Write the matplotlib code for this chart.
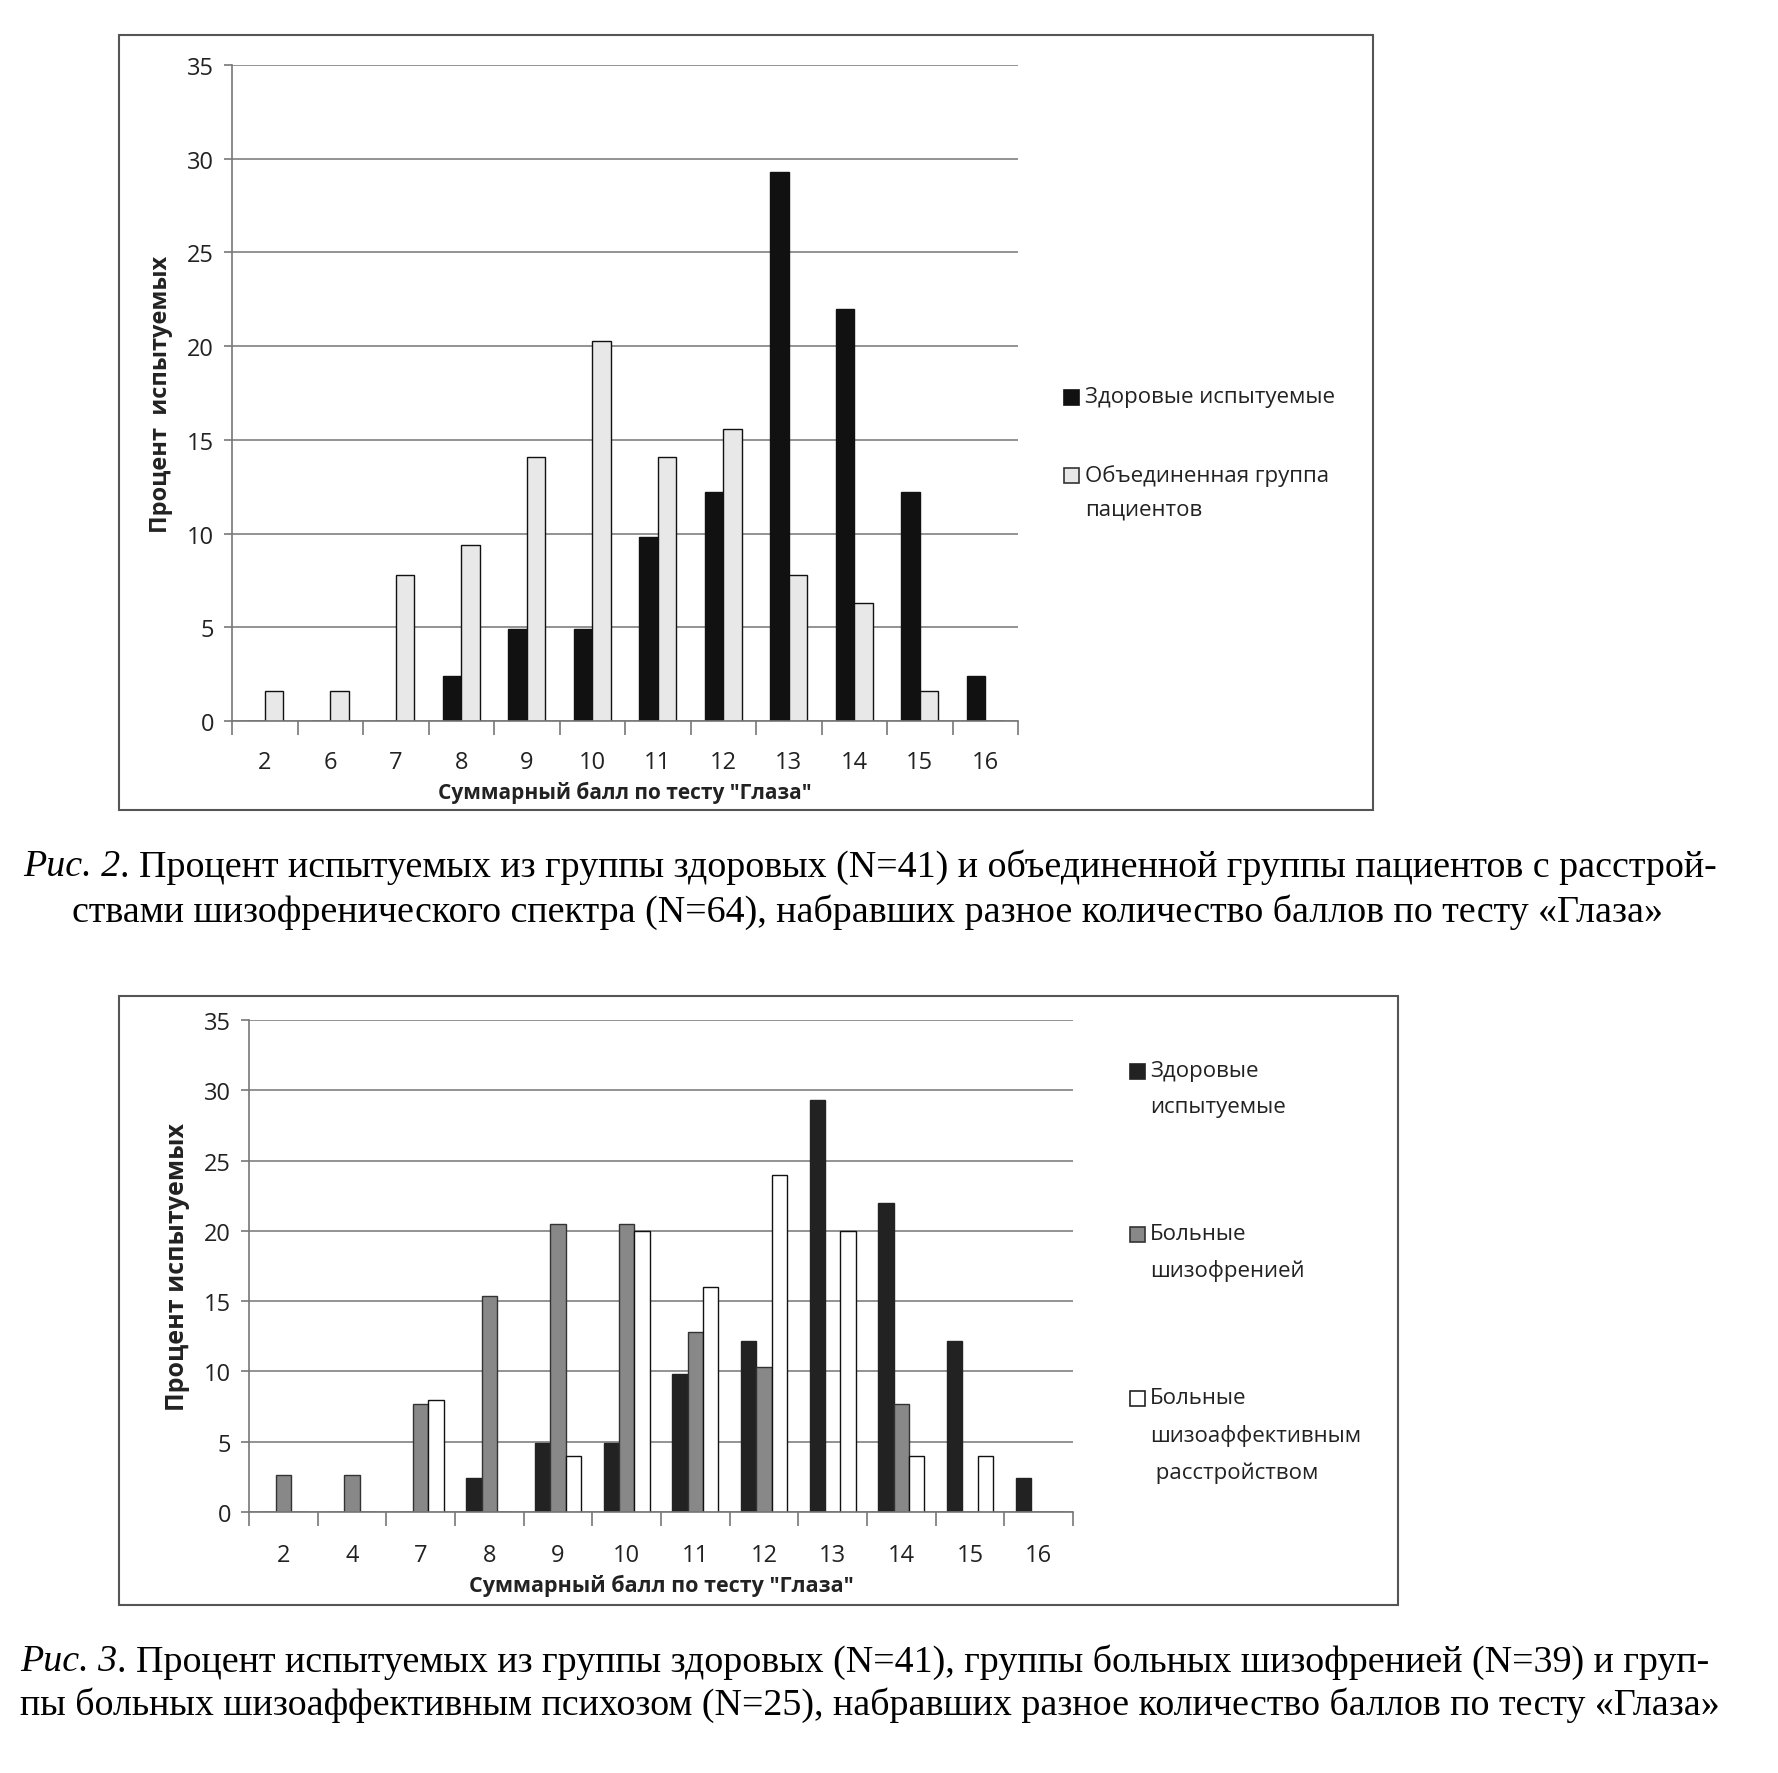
import matplotlib
matplotlib.use('Agg')
import matplotlib.pyplot as plt
import numpy as np
from matplotlib.patches import Rectangle

# data (percent of subjects per total score)
scores_top = ['2', '6', '7', '8', '9', '10', '11', '12', '13', '14', '15', '16']
healthy_top = [0, 0, 0, 2.4, 4.9, 4.9, 9.8, 12.2, 29.3, 22.0, 12.2, 2.4]
patients_top = [1.6, 1.6, 7.8, 9.4, 14.1, 20.3, 14.1, 15.6, 7.8, 6.3, 1.6, 0]

scores_bot = ['2', '4', '7', '8', '9', '10', '11', '12', '13', '14', '15', '16']
healthy_bot = [0, 0, 0, 2.4, 4.9, 4.9, 9.8, 12.2, 29.3, 22.0, 12.2, 2.4]
schizo_bot = [2.6, 2.6, 7.7, 15.4, 20.5, 20.5, 12.8, 10.3, 0, 7.7, 0, 0]
schizoaff_bot = [0, 0, 8, 0, 4, 20, 16, 24, 20, 4, 4, 0]

plt.rcParams['font.family'] = ['Open Sans', 'DejaVu Sans']

W, H = 1778, 1774
fig = plt.figure(figsize=(W / 100, H / 100), dpi=100)


def fx(px):
    return px / W


def fy(py):
    return 1 - py / H


# outer chart frames
for (x0, y0, x1, y1) in [(119, 36, 1373, 811), (119, 997, 1398, 1606)]:
    fig.patches.append(Rectangle((fx(x0), fy(y1)), fx(x1 - x0), (y1 - y0) / H,
                                 transform=fig.transFigure, fill=False,
                                 edgecolor='#555555', linewidth=1.5))


def style_axes(ax, labels, ylabel, ylsize, xlsize, pad):
    n = len(labels)
    ax.set_xlim(-0.5, n - 0.5)
    ax.set_ylim(0, 35)
    ax.set_yticks(range(0, 36, 5))
    ax.set_xticks(np.arange(n))
    ax.set_xticklabels(labels)
    ax.set_xticks(np.arange(n + 1) - 0.5, minor=True)
    ax.tick_params(axis='x', which='major', length=0, pad=pad, labelsize=17, labelcolor='#222222')
    ax.tick_params(axis='x', which='minor', length=10, color='#777777', width=1.2)
    ax.tick_params(axis='y', length=6, color='#777777', width=1.2, labelsize=17,
                   labelcolor='#222222', pad=7)
    ax.grid(axis='y', color='#808080', linewidth=1.2)
    ax.set_axisbelow(True)
    for s in ['top', 'right']:
        ax.spines[s].set_visible(False)
    for s in ['left', 'bottom']:
        ax.spines[s].set_color('#777777')
        ax.spines[s].set_linewidth(1.2)
    ax.set_xlabel('Суммарный балл по тесту "Глаза"', fontsize=xlsize, fontweight='bold',
                  color='#222222', labelpad=5)
    ax.set_ylabel(ylabel, fontsize=ylsize, fontweight='bold', color='#222222', labelpad=10)


def legend_entry(x_sq, x_txt, ys, lines, color, edge):
    # square aligned with the first text line, like the original Excel legend
    s = 15
    fig.patches.append(Rectangle((fx(x_sq), fy(ys[0] + s / 2)), s / W, s / H,
                                 transform=fig.transFigure, facecolor=color,
                                 edgecolor=edge, linewidth=1.2))
    for yy, t in zip(ys, lines):
        fig.text(fx(x_txt), fy(yy), t, fontsize=16, color='#222222', va='center', ha='left')


# ---- Fig. 2 ----
ax1 = fig.add_axes([fx(232), fy(722), fx(1018 - 232), (722 - 66) / H])
x = np.arange(len(scores_top))
w = 0.286
ax1.bar(x - w / 2, healthy_top, w, color='#111111', edgecolor='#111111', linewidth=1)
ax1.bar(x + w / 2, patients_top, w, color='#e8e8e8', edgecolor='#111111', linewidth=1)
style_axes(ax1, scores_top, 'Процент  испытуемых', 17, 15, 21)

legend_entry(1064, 1085, [398], ['Здоровые испытуемые'], '#111111', '#111111')
legend_entry(1064, 1085, [476, 510], ['Объединенная группа', 'пациентов'], '#e8e8e8', '#333333')

# ---- Fig. 3 ----
ax2 = fig.add_axes([fx(249), fy(1513), fx(1073 - 249), (1513 - 1021) / H])
x = np.arange(len(scores_bot))
w = 0.222
ax2.bar(x - w, healthy_bot, w, color='#222222', edgecolor='#222222', linewidth=1)
ax2.bar(x, schizo_bot, w, color='#888888', edgecolor='#333333', linewidth=1)
ax2.bar(x + w, schizoaff_bot, w, color='white', edgecolor='#111111', linewidth=1)
style_axes(ax2, scores_bot, 'Процент испытуемых', 18, 15.5, 22)

legend_entry(1130, 1150, [1072, 1108], ['Здоровые', 'испытуемые'], '#222222', '#222222')
legend_entry(1130, 1150, [1235, 1271], ['Больные', 'шизофренией'], '#888888', '#333333')
legend_entry(1130, 1150, [1399, 1436, 1473], ['Больные', 'шизоаффективным', ' расстройством'],
             'white', '#222222')

# captions
serif = ['Liberation Serif', 'DejaVu Serif']
csize = 27.4
renderer = fig.canvas.get_renderer()


def caption_first_line(x_px, y_px, italic_part, rest):
    t = fig.text(fx(x_px), fy(y_px), italic_part, fontsize=csize, family=serif,
                 style='italic', va='center')
    bb = t.get_window_extent(renderer=renderer)
    fig.text(bb.x1 / W, fy(y_px), rest, fontsize=csize, family=serif, va='center')


caption_first_line(23, 867, 'Рис. 2',
                   '. Процент испытуемых из группы здоровых (N=41) и объединенной группы пациентов с расстрой-')
fig.text(fx(867), fy(912),
         'ствами шизофренического спектра (N=64), набравших разное количество баллов по тесту «Глаза»',
         fontsize=csize, family=serif, va='center', ha='center')

caption_first_line(20, 1662, 'Рис. 3',
                   '. Процент испытуемых из группы здоровых (N=41), группы больных шизофренией (N=39) и груп-')
fig.text(fx(20), fy(1705),
         'пы больных шизоаффективным психозом (N=25), набравших разное количество баллов по тесту «Глаза»',
         fontsize=csize, family=serif, va='center', ha='left')

fig.savefig('out.png', dpi=100, facecolor='white')
